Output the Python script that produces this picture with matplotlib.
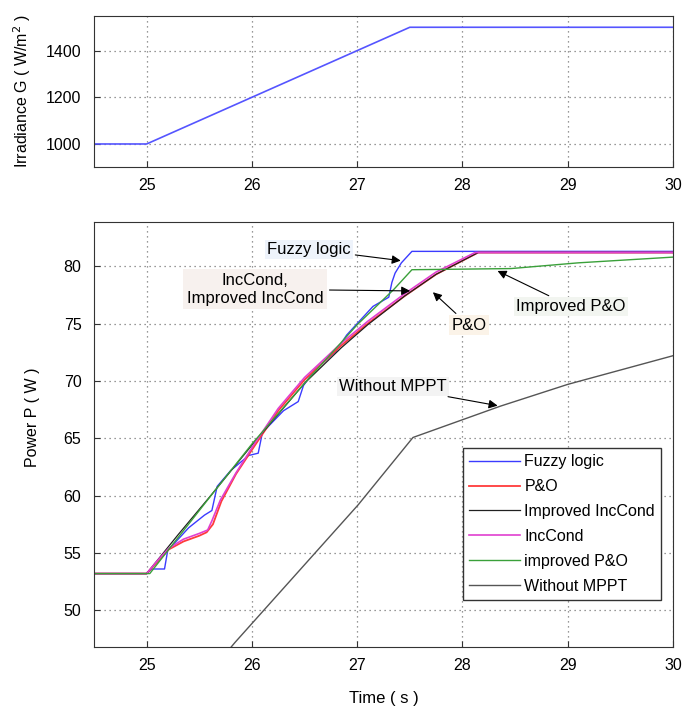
import matplotlib
matplotlib.use("Agg")
import matplotlib.pyplot as plt

plt.rcParams['font.family'] = ['Liberation Sans', 'DejaVu Sans']

# irradiance
t_g = [24.5, 25.0, 27.5, 30.0]
g = [1000, 1000, 1500, 1500]

# power curves
t_fuzzy = [24.5, 25.0, 25.05, 25.17, 25.2, 25.4, 25.55, 25.62, 25.67, 25.8, 25.97, 26.06,
           26.1, 26.3, 26.44, 26.49, 26.6, 26.8, 26.85, 26.9, 27.0, 27.15, 27.3, 27.33,
           27.36, 27.42, 27.52, 30.0]
p_fuzzy = [53.2, 53.2, 53.6, 53.6, 55.2, 57.2, 58.3, 58.7, 60.8, 62.2, 63.5, 63.7,
           65.5, 67.4, 68.2, 69.6, 71.0, 72.6, 73.3, 74.0, 75.0, 76.5, 77.3, 78.6,
           79.4, 80.3, 81.3, 81.3]

t_po = [24.5, 25.0, 25.1, 25.21, 25.35, 25.5, 25.57, 25.63, 25.71, 25.85, 26.03, 26.25,
        26.5, 26.85, 27.1, 27.45, 27.75, 28.15, 30.0]
p_po = [53.2, 53.2, 54.2, 55.3, 56.0, 56.5, 56.8, 57.5, 59.5, 61.9, 64.4, 67.4,
        70.1, 73.1, 75.0, 77.4, 79.3, 81.2, 81.2]

t_inc = [24.5, 25.0, 25.1, 25.21, 25.35, 25.5, 25.58, 25.62, 25.7, 25.85, 26.03, 26.25,
         26.5, 26.85, 27.1, 27.45, 27.75, 28.12, 30.0]
p_inc = [53.2, 53.2, 54.3, 55.4, 56.2, 56.7, 57.0, 57.8, 59.6, 62.0, 64.6, 67.6,
         70.3, 73.3, 75.2, 77.6, 79.5, 81.2, 81.2]

t_iinc = [24.5, 25.0, 25.3, 25.6, 26.0, 26.5, 26.85, 27.1, 27.45, 27.75, 28.15, 30.0]
p_iinc = [53.2, 53.2, 56.6, 59.9, 64.4, 69.8, 72.9, 74.9, 77.4, 79.3, 81.2, 81.2]

t_ipo = [24.5, 25.03, 25.62, 26.0, 26.5, 27.0, 27.35, 27.52, 28.46, 29.1, 30.0]
p_ipo = [53.2, 53.2, 60.1, 64.5, 69.8, 74.9, 78.0, 79.7, 79.8, 80.3, 80.8]

t_nomppt = [24.5, 25.0, 25.84, 27.01, 27.53, 28.36, 29.0, 30.0]
p_nomppt = [38.0, 38.0, 47.2, 59.2, 65.07, 67.8, 69.7, 72.2]

fig = plt.figure(figsize=(6.82, 7.09), dpi=100)
ax1 = fig.add_axes([0.1378, 0.764, 0.849, 0.214])
ax2 = fig.add_axes([0.1378, 0.0875, 0.849, 0.6])

ax1.plot(t_g, g, color='#5555ff', lw=1.2)
ax1.set_xlim(24.5, 30)
ax1.set_ylim(900, 1550)
ax1.set_yticks([1000, 1200, 1400])
ax1.set_xticks([25, 26, 27, 28, 29, 30])
ax1.set_ylabel('Irradiance G ( W/m$^2$ )', fontsize=11.5)
ax1.yaxis.set_label_coords(-0.106, 0.5)

ax2.plot(t_fuzzy, p_fuzzy, color='#3b3bff', lw=1.0, label='Fuzzy logic')
ax2.plot(t_po, p_po, color='#ff3b3b', lw=1.3, label='P&O')
ax2.plot(t_iinc, p_iinc, color='#202020', lw=0.9, label='Improved IncCond')
ax2.plot(t_inc, p_inc, color='#e040d0', lw=1.2, label='IncCond')
ax2.plot(t_ipo, p_ipo, color='#3aa03a', lw=1.0, label='improved P&O')
ax2.plot(t_nomppt, p_nomppt, color='#555555', lw=1.0, label='Without MPPT')
ax2.set_xlim(24.5, 30)
ax2.set_ylim(46.8, 83.9)
ax2.set_yticks([50, 55, 60, 65, 70, 75, 80])
ax2.set_xticks([25, 26, 27, 28, 29, 30])
ax2.set_xlabel('Time ( s )', fontsize=12)
ax2.set_ylabel('Power P ( W )', fontsize=11.5)
ax2.yaxis.set_label_coords(-0.093, 0.54)
ax2.xaxis.set_label_coords(0.5, -0.103)

for ax in (ax1, ax2):
    ax.grid(True, linestyle=(0, (1, 3)), color='#777777', lw=0.9)
    ax.tick_params(direction='in', length=4, color='#333333', labelsize=11.5)
    ax.tick_params(axis='x', pad=8)
    ax.tick_params(axis='y', pad=9)
    for s in ax.spines.values():
        s.set_color('#333333')

leg = ax2.legend(loc='lower right', bbox_to_anchor=(0.98, 0.11), borderaxespad=0,
                 fontsize=11.5, handlelength=3.2, fancybox=False, framealpha=1,
                 edgecolor='#333333', labelspacing=0.62, handletextpad=0.25,
                 borderpad=0.4)
leg.get_frame().set_linewidth(1.0)

ap = dict(arrowstyle='-|>', color='k', lw=0.8, mutation_scale=13)
ax2.annotate('Fuzzy logic', xy=(27.44, 80.46), xytext=(26.54, 81.5), fontsize=12,
             ha='center', va='center', arrowprops=ap,
             bbox=dict(boxstyle='square,pad=0.12', fc='#eef3fb', ec='none'))
ax2.annotate('IncCond,\nImproved IncCond', xy=(27.53, 77.85), xytext=(26.03, 78.0), fontsize=12,
             ha='center', va='center', arrowprops=ap, linespacing=1.25,
             bbox=dict(boxstyle='square,pad=0.2', fc='#f7f1ee', ec='none'))
ax2.annotate('P&O', xy=(27.7, 77.9), xytext=(28.06, 74.85), fontsize=12,
             ha='center', va='center', arrowprops=ap,
             bbox=dict(boxstyle='square,pad=0.15', fc='#fbf3e8', ec='none'))
ax2.annotate('Improved P&O', xy=(28.31, 79.7), xytext=(29.03, 76.5), fontsize=12,
             ha='center', va='center', arrowprops=ap,
             bbox=dict(boxstyle='square,pad=0.12', fc='#f2f5f0', ec='none'))
ax2.annotate('Without MPPT', xy=(28.36, 67.8), xytext=(27.34, 69.5), fontsize=12,
             ha='center', va='center', arrowprops=ap,
             bbox=dict(boxstyle='square,pad=0.12', fc='#f3f3f3', ec='none'))

fig.savefig('out.png', dpi=100)
